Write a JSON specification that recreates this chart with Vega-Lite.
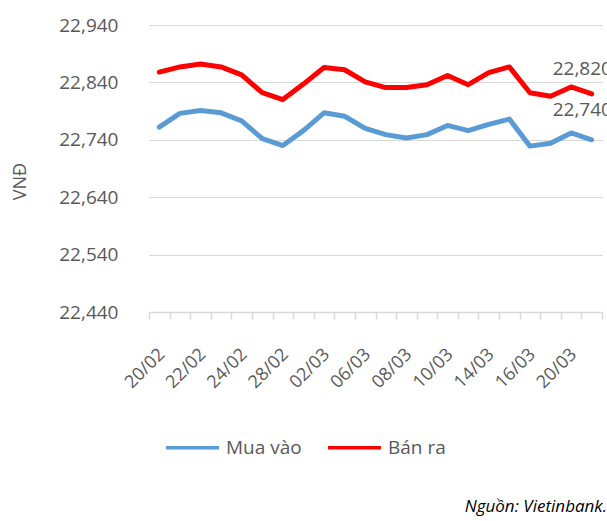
{
  "$schema": "https://vega.github.io/schema/vega-lite/v6.json",
  "width": 453,
  "height": 287,
  "autosize": "none",
  "padding": {"left": 149, "top": 25, "right": 5, "bottom": 209},
  "background": "white",
  "config": {
    "view": {"stroke": null},
    "font": "Open Sans",
    "axis": {"labelFont": "Open Sans", "titleFont": "Open Sans"},
    "legend": {"labelFont": "Open Sans"}
  },
  "title": {
    "text": "Nguồn: Vietinbank.",
    "orient": "bottom",
    "anchor": "end",
    "font": "Open Sans",
    "fontStyle": "italic",
    "fontWeight": "normal",
    "fontSize": 17,
    "color": "#000000",
    "offset": 41,
    "dx": -5
  },
  "data": {
    "values": [
      {"date": "20/02", "series": "Mua vào", "value": 22762},
      {"date": "21/02", "series": "Mua vào", "value": 22786},
      {"date": "22/02", "series": "Mua vào", "value": 22791},
      {"date": "23/02", "series": "Mua vào", "value": 22787},
      {"date": "24/02", "series": "Mua vào", "value": 22773},
      {"date": "27/02", "series": "Mua vào", "value": 22742},
      {"date": "28/02", "series": "Mua vào", "value": 22730},
      {"date": "01/03", "series": "Mua vào", "value": 22756},
      {"date": "02/03", "series": "Mua vào", "value": 22787},
      {"date": "03/03", "series": "Mua vào", "value": 22781},
      {"date": "06/03", "series": "Mua vào", "value": 22760},
      {"date": "07/03", "series": "Mua vào", "value": 22749},
      {"date": "08/03", "series": "Mua vào", "value": 22743},
      {"date": "09/03", "series": "Mua vào", "value": 22749},
      {"date": "10/03", "series": "Mua vào", "value": 22765},
      {"date": "13/03", "series": "Mua vào", "value": 22756},
      {"date": "14/03", "series": "Mua vào", "value": 22767},
      {"date": "15/03", "series": "Mua vào", "value": 22776},
      {"date": "16/03", "series": "Mua vào", "value": 22729},
      {"date": "17/03", "series": "Mua vào", "value": 22734},
      {"date": "20/03", "series": "Mua vào", "value": 22752},
      {"date": "21/03", "series": "Mua vào", "value": 22740},
      {"date": "20/02", "series": "Bán ra", "value": 22858},
      {"date": "21/02", "series": "Bán ra", "value": 22867},
      {"date": "22/02", "series": "Bán ra", "value": 22872},
      {"date": "23/02", "series": "Bán ra", "value": 22867},
      {"date": "24/02", "series": "Bán ra", "value": 22853},
      {"date": "27/02", "series": "Bán ra", "value": 22822},
      {"date": "28/02", "series": "Bán ra", "value": 22810},
      {"date": "01/03", "series": "Bán ra", "value": 22837},
      {"date": "02/03", "series": "Bán ra", "value": 22866},
      {"date": "03/03", "series": "Bán ra", "value": 22862},
      {"date": "06/03", "series": "Bán ra", "value": 22841},
      {"date": "07/03", "series": "Bán ra", "value": 22831},
      {"date": "08/03", "series": "Bán ra", "value": 22831},
      {"date": "09/03", "series": "Bán ra", "value": 22836},
      {"date": "10/03", "series": "Bán ra", "value": 22852},
      {"date": "13/03", "series": "Bán ra", "value": 22836},
      {"date": "14/03", "series": "Bán ra", "value": 22857},
      {"date": "15/03", "series": "Bán ra", "value": 22867},
      {"date": "16/03", "series": "Bán ra", "value": 22822},
      {"date": "17/03", "series": "Bán ra", "value": 22816},
      {"date": "20/03", "series": "Bán ra", "value": 22832},
      {"date": "21/03", "series": "Bán ra", "value": 22820}
    ]
  },
  "encoding": {
    "x": {
      "field": "date",
      "type": "ordinal",
      "sort": null,
      "scale": {"type": "band", "paddingInner": 0, "paddingOuter": 0},
      "axis": {
        "title": null,
        "labelAngle": -45,
        "labelFontSize": 18,
        "labelColor": "#595959",
        "labelOverlap": false,
        "labelPadding": 26,
        "labelOffset": -4,
        "labelExpr": "indexof(['20/02','22/02','24/02','28/02','02/03','06/03','08/03','10/03','14/03','16/03','20/03'], datum.value) >= 0 ? datum.value : ''",
        "tickBand": "extent",
        "domainColor": "#d9d9d9",
        "domainWidth": 1.5,
        "tickColor": "#d9d9d9",
        "tickWidth": 1.5,
        "tickSize": 7,
        "grid": false
      }
    },
    "y": {
      "field": "value",
      "type": "quantitative",
      "scale": {"domain": [22440, 22940], "zero": false, "nice": false},
      "axis": {
        "title": "VNĐ",
        "titleFontSize": 18,
        "titleFontWeight": "normal",
        "titleColor": "#595959",
        "titleAngle": -90,
        "titleX": -129,
        "titleY": 156,
        "titleAlign": "center",
        "titleBaseline": "middle",
        "values": [22440, 22540, 22640, 22740, 22840, 22940],
        "format": ",.0f",
        "labelFontSize": 19,
        "labelColor": "#595959",
        "labelPadding": 31,
        "domain": false,
        "ticks": false,
        "grid": true,
        "gridColor": "#d9d9d9",
        "gridWidth": 1
      }
    }
  },
  "layer": [
    {
      "mark": {"type": "line", "strokeWidth": 5, "strokeJoin": "round", "strokeCap": "round"},
      "encoding": {
        "color": {
          "field": "series",
          "type": "nominal",
          "scale": {"domain": ["Mua vào", "Bán ra"], "range": ["#5B9BD5", "#FF0000"]},
          "legend": {
            "title": null,
            "orient": "none",
            "direction": "horizontal",
            "legendX": 15,
            "legendY": 394,
            "symbolType": "stroke",
            "symbolSize": 2800,
            "symbolStrokeWidth": 3.5,
            "labelFontSize": 19,
            "labelColor": "#595959",
            "labelOffset": 5,
            "columnPadding": 19
          }
        }
      }
    },
    {
      "transform": [{"filter": "datum.date == '21/03' && datum.series == 'Bán ra'"}],
      "mark": {"type": "text", "align": "left", "baseline": "middle", "dx": -39, "dy": -25, "fontSize": 19, "color": "#595959"},
      "encoding": {"text": {"field": "value", "type": "quantitative", "format": ","}}
    },
    {
      "transform": [{"filter": "datum.date == '21/03' && datum.series == 'Mua vào'"}],
      "mark": {"type": "text", "align": "left", "baseline": "middle", "dx": -39, "dy": -30, "fontSize": 19, "color": "#595959"},
      "encoding": {"text": {"field": "value", "type": "quantitative", "format": ","}}
    }
  ]
}
